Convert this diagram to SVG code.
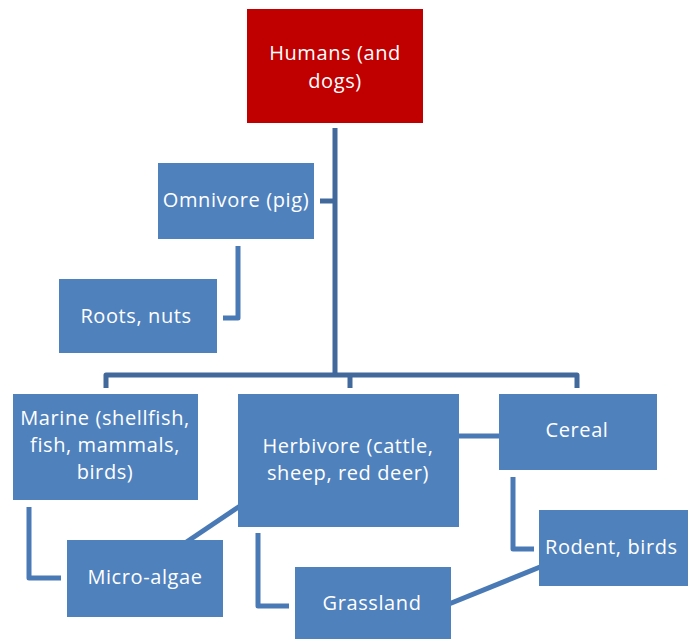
<svg xmlns="http://www.w3.org/2000/svg" width="688" height="639" viewBox="0 0 688 639">
<style>
.box{fill:#4F81BD;}
.red{fill:#C00000;}
text{font-family:"Open Sans","Liberation Sans",sans-serif;font-size:20px;letter-spacing:0.6px;fill:#FFFFFF;text-anchor:middle;}
.main{fill:none;stroke:#41699C;stroke-width:5;stroke-linejoin:round;}
.sub{fill:none;stroke:#4A7AB5;stroke-width:5;stroke-linejoin:round;}
</style>
<rect width="688" height="639" fill="#FFFFFF"/>
<g id="connectors">
<path class="main" d="M335,128 V375"/>
<path class="main" d="M320,201 H335"/>
<path class="main" d="M106,388 V375 H577 V388"/>
<path class="main" d="M350,375 V388"/>
<path class="sub" d="M238,246 V318 H223"/>
<path class="sub" d="M29,507 V578 H61"/>
<path class="sub" d="M240,506 L185,543"/>
<path class="sub" d="M258,533 V606 H289"/>
<path class="sub" d="M459,436 H499"/>
<path class="sub" d="M513,477 V549 H534"/>
<path class="sub" d="M444,606 L545,565"/>
</g>
<g id="humans">
<rect class="red" x="247" y="9" width="176" height="114"/>
<text x="335" y="60">Humans (and</text>
<text x="335" y="88">dogs)</text>
</g>
<g id="omnivore">
<rect class="box" x="158" y="163" width="156" height="76"/>
<text x="236" y="207">Omnivore (pig)</text>
</g>
<g id="roots">
<rect class="box" x="59" y="279" width="158" height="74"/>
<text x="136" y="323">Roots, nuts</text>
</g>
<g id="marine">
<rect class="box" x="13" y="394" width="185" height="106"/>
<text x="105" y="425">Marine (shellfish,</text>
<text x="105" y="452">fish, mammals,</text>
<text x="105" y="479">birds)</text>
</g>
<g id="herbivore">
<rect class="box" x="238" y="394" width="221" height="133"/>
<text x="348" y="453">Herbivore (cattle,</text>
<text x="348" y="480">sheep, red deer)</text>
</g>
<g id="cereal">
<rect class="box" x="499" y="394" width="158" height="76"/>
<text x="577" y="437">Cereal</text>
</g>
<g id="rodent">
<rect class="box" x="539" y="510" width="152" height="76"/>
<text x="545" y="554" style="text-anchor:start">Rodent, birds</text>
</g>
<g id="microalgae">
<rect class="box" x="67" y="540" width="156" height="77"/>
<text x="145" y="584">Micro-algae</text>
</g>
<g id="grassland">
<rect class="box" x="295" y="567" width="156" height="75"/>
<text x="372" y="610">Grassland</text>
</g>
</svg>
